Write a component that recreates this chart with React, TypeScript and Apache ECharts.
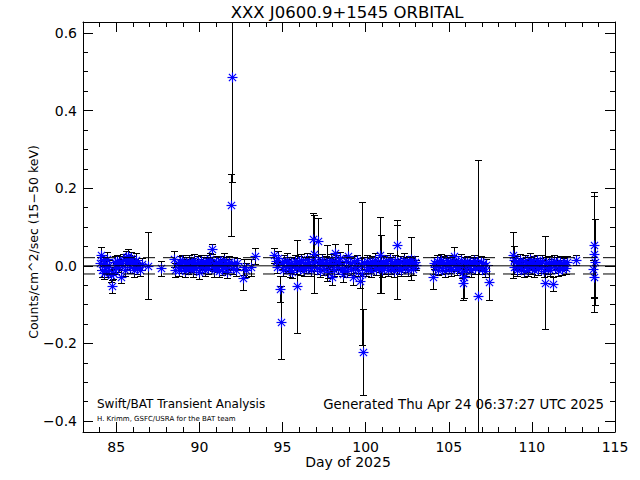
import React, { useEffect, useRef } from "react";
import * as echarts from "echarts";

// ---- axis ranges and ticks ----
const xRange = [83, 115];
const yRange = [-0.428, 0.628];
const xMajorTicks = [85, 90, 95, 100, 105, 110, 115];
const xMinorTicks = [84, 86, 87, 88, 89, 91, 92, 93, 94, 96, 97, 98, 99, 101, 102, 103, 104, 106, 107, 108, 109, 111, 112, 113, 114];
const yMajorTicks = [-0.4, -0.2, 0.0, 0.2, 0.4, 0.6];
const yMinorTicks = [-0.35, -0.3, -0.25, -0.15, -0.1, -0.05, 0.05, 0.1, 0.15, 0.25, 0.3, 0.35, 0.45, 0.5, 0.55];
const refLevels = [0.0, 0.021, -0.021];

// ---- data: [day, rate, error] ----
const segmentA = [
  [84.02, 0.006, 0.016], [84.08, 0.028, 0.021], [84.12, -0.010, 0.018], [84.18, 0.014, 0.015],
  [84.25, -0.018, 0.017], [84.31, 0.004, 0.014], [84.38, -0.004, 0.016], [84.44, 0.018, 0.018],
  [84.52, -0.014, 0.016], [84.58, 0.002, 0.014], [84.66, -0.024, 0.017], [84.76, -0.053, 0.016],
  [84.83, -0.018, 0.016], [84.90, 0.010, 0.015], [84.97, -0.006, 0.014], [85.04, 0.012, 0.016],
  [85.11, -0.002, 0.015], [85.18, 0.008, 0.017], [85.28, -0.028, 0.016], [85.36, 0.003, 0.014],
  [85.43, 0.016, 0.015], [85.50, -0.010, 0.017], [85.57, 0.022, 0.016], [85.63, 0.006, 0.014],
  [85.70, 0.026, 0.018], [85.77, 0.012, 0.015], [85.84, -0.004, 0.014], [85.91, 0.020, 0.016],
  [85.98, 0.010, 0.015], [86.05, -0.012, 0.017], [86.12, 0.004, 0.014], [86.19, 0.016, 0.016],
  [86.26, -0.006, 0.015], [86.34, 0.002, 0.014], [86.43, -0.010, 0.016], [86.55, 0.004, 0.015],
  [86.93, 0.000, 0.086], [87.72, -0.006, 0.019], [88.50, 0.017, 0.020], [88.55, -0.012, 0.018],
];

const segmentB = [
  [88.70, 0.004, 0.014], [88.77, -0.010, 0.015], [88.84, 0.010, 0.016], [88.91, -0.004, 0.014],
  [88.98, 0.014, 0.015], [89.05, 0.000, 0.013], [89.12, -0.014, 0.016], [89.19, 0.008, 0.014],
  [89.26, 0.002, 0.015], [89.33, -0.008, 0.014], [89.40, 0.012, 0.016], [89.47, -0.002, 0.013],
  [89.54, 0.006, 0.015], [89.61, -0.012, 0.016], [89.68, 0.016, 0.015], [89.75, 0.002, 0.014],
  [89.82, -0.006, 0.015], [89.89, 0.010, 0.016], [89.96, -0.016, 0.017], [90.03, 0.004, 0.014],
  [90.10, 0.012, 0.015], [90.17, -0.004, 0.014], [90.24, 0.008, 0.016], [90.31, -0.010, 0.015],
  [90.38, 0.002, 0.013], [90.45, 0.014, 0.015], [90.52, -0.006, 0.016], [90.59, 0.006, 0.014],
  [90.66, 0.018, 0.016], [90.76, 0.044, 0.013], [90.83, 0.000, 0.014], [90.90, -0.012, 0.016],
  [90.97, 0.010, 0.015], [91.04, -0.002, 0.014], [91.11, 0.006, 0.016], [91.18, -0.014, 0.015],
  [91.25, 0.012, 0.014], [91.32, 0.002, 0.016], [91.39, -0.008, 0.015], [91.46, 0.016, 0.016],
  [91.53, -0.004, 0.014], [91.60, 0.008, 0.015], [91.67, -0.016, 0.016], [91.74, 0.004, 0.014],
  [91.81, 0.010, 0.015], [91.92, 0.157, 0.080], [91.96, 0.487, 0.270], [92.02, -0.006, 0.016],
  [92.10, 0.008, 0.015], [92.18, -0.010, 0.016], [92.26, 0.006, 0.014], [92.62, -0.032, 0.030],
  [92.70, -0.003, 0.020], [92.82, -0.010, 0.018], [93.10, -0.004, 0.022], [93.35, 0.025, 0.020],
];

const segmentC = [
  [94.50, 0.027, 0.020], [94.58, 0.012, 0.016], [94.66, -0.004, 0.015], [94.74, 0.020, 0.018],
  [94.85, -0.059, 0.033], [94.88, -0.145, 0.094], [94.95, 0.006, 0.015], [95.03, -0.010, 0.016],
  [95.11, 0.012, 0.015], [95.19, -0.004, 0.014], [95.27, 0.016, 0.016], [95.35, 0.002, 0.015],
  [95.43, -0.012, 0.016], [95.51, 0.008, 0.014], [95.59, -0.016, 0.015], [95.67, 0.004, 0.016],
  [95.75, 0.012, 0.015], [95.83, -0.006, 0.014], [95.89, -0.053, 0.120], [95.97, 0.010, 0.016],
  [96.05, -0.008, 0.015], [96.13, 0.014, 0.016], [96.21, 0.000, 0.014], [96.29, -0.012, 0.015],
  [96.37, 0.006, 0.016], [96.45, 0.018, 0.015], [96.53, -0.004, 0.014], [96.61, 0.010, 0.016],
  [96.69, -0.010, 0.015], [96.77, 0.002, 0.016], [96.84, 0.068, 0.068], [96.90, 0.030, 0.100],
  [96.97, 0.012, 0.015], [97.05, -0.006, 0.016], [97.13, 0.063, 0.060], [97.20, 0.008, 0.015],
  [97.28, -0.014, 0.016], [97.36, 0.016, 0.015], [97.44, 0.004, 0.014], [97.52, -0.008, 0.016],
  [97.60, 0.010, 0.015], [97.66, 0.007, 0.047], [97.74, -0.016, 0.016], [97.82, 0.006, 0.015],
  [97.90, 0.014, 0.016], [97.96, -0.029, 0.020], [98.04, 0.002, 0.015], [98.10, -0.010, 0.016],
  [98.16, 0.033, 0.024], [98.24, 0.012, 0.015], [98.32, -0.004, 0.016], [98.40, 0.008, 0.015],
  [98.48, 0.020, 0.016], [98.56, -0.012, 0.015], [98.66, -0.022, 0.020], [98.72, -0.006, 0.015],
  [98.80, 0.012, 0.016], [98.88, -0.014, 0.014], [98.96, 0.026, 0.030], [99.04, 0.006, 0.015],
  [99.12, -0.008, 0.016], [99.22, -0.029, 0.020], [99.30, 0.010, 0.015], [99.38, -0.002, 0.016],
  [99.46, 0.014, 0.015], [99.54, -0.010, 0.016], [99.66, -0.038, 0.020],
];

const segmentD = [
  [99.74, 0.004, 0.015], [99.80, -0.020, 0.185], [99.85, -0.222, 0.110], [99.92, 0.008, 0.016],
  [100.00, -0.010, 0.015], [100.08, 0.012, 0.016], [100.16, -0.004, 0.014], [100.24, 0.006, 0.015],
  [100.32, -0.014, 0.016], [100.40, 0.010, 0.015], [100.48, 0.002, 0.014], [100.56, 0.016, 0.016],
  [100.64, -0.008, 0.015], [100.72, 0.008, 0.016], [100.80, -0.002, 0.014], [100.86, 0.028, 0.097],
  [100.90, 0.004, 0.075], [100.96, -0.012, 0.016], [101.04, 0.010, 0.015], [101.12, -0.006, 0.016],
  [101.20, 0.014, 0.015], [101.28, 0.002, 0.014], [101.36, -0.010, 0.016], [101.44, 0.018, 0.015],
  [101.52, -0.004, 0.016], [101.60, 0.008, 0.015], [101.68, -0.014, 0.014], [101.76, 0.012, 0.016],
  [101.82, 0.002, 0.015], [101.89, 0.054, 0.065], [101.91, 0.010, 0.095], [101.98, -0.006, 0.015],
  [102.06, 0.010, 0.016], [102.14, -0.012, 0.015], [102.22, 0.006, 0.014], [102.30, 0.016, 0.016],
  [102.38, -0.002, 0.015], [102.46, 0.008, 0.016], [102.54, -0.010, 0.015], [102.62, 0.012, 0.014],
  [102.71, 0.018, 0.055], [102.78, 0.004, 0.015], [102.86, -0.008, 0.016], [102.94, 0.010, 0.015],
  [103.02, 0.002, 0.014],
];

const segmentE = [
  [104.05, -0.029, 0.030], [104.12, 0.008, 0.015], [104.20, -0.004, 0.016], [104.28, 0.012, 0.015],
  [104.36, -0.010, 0.014], [104.44, 0.006, 0.016], [104.52, 0.016, 0.015], [104.60, -0.006, 0.016],
  [104.68, 0.010, 0.015], [104.76, -0.014, 0.014], [104.84, 0.004, 0.016], [104.92, 0.014, 0.015],
  [105.00, -0.002, 0.016], [105.08, 0.008, 0.015], [105.16, -0.012, 0.014], [105.24, 0.012, 0.016],
  [105.32, 0.026, 0.022], [105.40, 0.002, 0.015], [105.48, -0.008, 0.016], [105.56, 0.010, 0.015],
  [105.64, -0.004, 0.014], [105.72, 0.014, 0.016], [105.80, -0.016, 0.015], [105.86, -0.043, 0.045],
  [105.89, -0.030, 0.052], [105.95, 0.006, 0.016], [106.03, -0.010, 0.015], [106.11, 0.012, 0.014],
  [106.19, 0.000, 0.016], [106.27, 0.008, 0.015], [106.35, -0.012, 0.016], [106.43, 0.004, 0.015],
  [106.51, 0.014, 0.014], [106.59, -0.006, 0.016], [106.67, 0.008, 0.015], [106.76, -0.079, 0.352],
  [106.84, -0.004, 0.016], [106.92, 0.010, 0.015], [107.00, -0.008, 0.014], [107.08, 0.006, 0.016],
  [107.16, -0.014, 0.015], [107.24, 0.002, 0.016], [107.42, -0.042, 0.045],
];

const segmentF = [
  [108.86, 0.028, 0.060], [108.90, 0.015, 0.035], [108.95, -0.004, 0.016], [109.03, 0.010, 0.015],
  [109.11, -0.010, 0.016], [109.19, 0.006, 0.014], [109.27, 0.016, 0.015], [109.35, -0.006, 0.016],
  [109.43, 0.004, 0.015], [109.51, -0.014, 0.014], [109.59, 0.012, 0.016], [109.67, 0.000, 0.015],
  [109.75, -0.010, 0.016], [109.83, 0.008, 0.015], [109.91, 0.018, 0.014], [109.99, -0.004, 0.016],
  [110.07, 0.010, 0.015], [110.15, -0.012, 0.016], [110.23, 0.004, 0.015], [110.31, 0.014, 0.014],
  [110.39, -0.008, 0.016], [110.47, 0.006, 0.015], [110.55, -0.002, 0.016], [110.63, 0.012, 0.015],
  [110.71, -0.014, 0.014], [110.79, -0.043, 0.120], [110.86, 0.008, 0.016], [110.94, -0.006, 0.015],
  [111.02, 0.010, 0.016], [111.10, -0.010, 0.015], [111.18, 0.004, 0.014], [111.25, -0.046, 0.018],
  [111.32, 0.012, 0.016], [111.40, -0.004, 0.015], [111.48, 0.008, 0.016], [111.56, -0.012, 0.015],
  [111.64, 0.002, 0.014], [111.72, 0.010, 0.016], [111.80, -0.008, 0.015], [111.88, 0.006, 0.016],
  [111.96, 0.004, 0.015], [112.04, -0.006, 0.016], [112.12, 0.010, 0.015], [112.65, 0.015, 0.012],
];

const segmentG = [
  [113.70, -0.008, 0.022], [113.72, 0.054, 0.135], [113.74, 0.031, 0.150], [113.76, -0.030, 0.052],
  [113.78, 0.010, 0.110],
];

const FONT = "DejaVu Sans";

export default function App() {
  const ref = useRef<HTMLDivElement>(null);

  useEffect(() => {
    if (!ref.current) return;
    const chart = echarts.init(ref.current, undefined, { renderer: "svg" });
    const points = [...segmentA, ...segmentB, ...segmentC, ...segmentD, ...segmentE, ...segmentF, ...segmentG];

    const black = "#000000";
    const blue = "#0000ff";

    const xBase = {
      type: "value" as const,
      min: xRange[0],
      max: xRange[1],
      splitLine: { show: false },
      axisPointer: { show: false },
    };
    const yBase = {
      type: "value" as const,
      min: yRange[0],
      max: yRange[1],
      splitLine: { show: false },
      axisPointer: { show: false },
    };

    const yFmt = (v: number) => {
      const s = Math.abs(v) < 1e-9 ? "0.0" : v.toFixed(1);
      return s.replace("-", "\u2212");
    };

    const renderErr = (params: any, api: any) => {
      const d = api.value(0);
      const v = api.value(1);
      const e = api.value(2);
      const top = api.coord([d, v + e]);
      const bot = api.coord([d, v - e]);
      const cx = Math.round(top[0]) + 0.5;
      const ty = Math.round(top[1]) + 0.5;
      const by = Math.round(bot[1]) + 0.5;
      const cap = 3.5;
      const style = { stroke: black, lineWidth: 1 };
      return {
        type: "group",
        children: [
          { type: "line", shape: { x1: cx, y1: ty, x2: cx, y2: by }, style },
          { type: "line", shape: { x1: cx - cap, y1: ty, x2: cx + cap, y2: ty }, style },
          { type: "line", shape: { x1: cx - cap, y1: by, x2: cx + cap, y2: by }, style },
        ],
      };
    };

    const renderStar = (params: any, api: any) => {
      const p = api.coord([api.value(0), api.value(1)]);
      const x = Math.round(p[0]) + 0.5;
      const y = Math.round(p[1]) + 0.5;
      const r = 5;
      const k = 3.6;
      const style = { stroke: blue, lineWidth: 1.2 };
      return {
        type: "group",
        children: [
          { type: "line", shape: { x1: x - r, y1: y, x2: x + r, y2: y }, style },
          { type: "line", shape: { x1: x, y1: y - r, x2: x, y2: y + r }, style },
          { type: "line", shape: { x1: x - k, y1: y - k, x2: x + k, y2: y + k }, style },
          { type: "line", shape: { x1: x - k, y1: y + k, x2: x + k, y2: y - k }, style },
        ],
      };
    };

    const refSeries = refLevels.map((lvl, i) => ({
      type: "line" as const,
      data: [
        [xRange[0], lvl],
        [xRange[1], lvl],
      ],
      symbol: "none",
      silent: true,
      lineStyle: { color: black, width: 1, type: i === 0 ? ("solid" as const) : [12, 8] },
      z: 4,
    }));

    chart.setOption({
      animation: false,
      backgroundColor: "#ffffff",
      grid: { left: 83, right: 25, top: 22, bottom: 48, containLabel: false },
      xAxis: [
        {
          ...xBase,
          position: "bottom",
          axisLine: { show: true, onZero: false, lineStyle: { color: black, width: 1 } },
          axisTick: { show: true, inside: true, length: 10, customValues: xMajorTicks, lineStyle: { color: black } },
          axisLabel: {
            show: true,
            customValues: xMajorTicks,
            color: black,
            fontSize: 14,
            fontFamily: FONT,
            margin: 8,
            formatter: (v: number) => String(Math.round(v)),
          },
        },
        {
          ...xBase,
          position: "bottom",
          axisLine: { show: false, onZero: false },
          axisTick: { show: true, inside: true, length: 5, customValues: xMinorTicks, lineStyle: { color: black } },
          axisLabel: { show: false },
        },
        {
          ...xBase,
          position: "top",
          axisLine: { show: true, onZero: false, lineStyle: { color: black, width: 1 } },
          axisTick: { show: true, inside: true, length: 10, customValues: xMajorTicks, lineStyle: { color: black } },
          axisLabel: { show: false },
        },
        {
          ...xBase,
          position: "top",
          axisLine: { show: false, onZero: false },
          axisTick: { show: true, inside: true, length: 5, customValues: xMinorTicks, lineStyle: { color: black } },
          axisLabel: { show: false },
        },
      ],
      yAxis: [
        {
          ...yBase,
          position: "left",
          axisLine: { show: true, onZero: false, lineStyle: { color: black, width: 1 } },
          axisTick: { show: true, inside: true, length: 10, customValues: yMajorTicks, lineStyle: { color: black } },
          axisLabel: {
            show: true,
            customValues: yMajorTicks,
            color: black,
            fontSize: 14,
            fontFamily: FONT,
            margin: 6,
            formatter: yFmt,
          },
        },
        {
          ...yBase,
          position: "left",
          axisLine: { show: false, onZero: false },
          axisTick: { show: true, inside: true, length: 5, customValues: yMinorTicks, lineStyle: { color: black } },
          axisLabel: { show: false },
        },
        {
          ...yBase,
          position: "right",
          axisLine: { show: true, onZero: false, lineStyle: { color: black, width: 1 } },
          axisTick: { show: true, inside: true, length: 10, customValues: yMajorTicks, lineStyle: { color: black } },
          axisLabel: { show: false },
        },
        {
          ...yBase,
          position: "right",
          axisLine: { show: false, onZero: false },
          axisTick: { show: true, inside: true, length: 5, customValues: yMinorTicks, lineStyle: { color: black } },
          axisLabel: { show: false },
        },
      ],
      series: [
        {
          type: "custom",
          name: "errors",
          data: points,
          encode: { x: 0, y: 1 },
          renderItem: renderErr,
          clip: true,
          silent: true,
          z: 2,
        },
        {
          type: "custom",
          name: "stars",
          data: points,
          encode: { x: 0, y: 1 },
          renderItem: renderStar,
          clip: true,
          silent: true,
          z: 3,
        },
        ...refSeries,
      ],
      graphic: [
        {
          type: "text",
          x: 347,
          y: 12,
          style: {
            text: "XXX J0600.9+1545 ORBITAL",
            fill: black,
            font: `16.5px "${FONT}"`,
            textAlign: "center",
            textVerticalAlign: "middle",
          },
        },
        {
          type: "text",
          x: 348,
          y: 462,
          style: {
            text: "Day of 2025",
            fill: black,
            font: `14px "${FONT}"`,
            textAlign: "center",
            textVerticalAlign: "middle",
          },
        },
        {
          type: "text",
          x: 33,
          y: 242,
          rotation: Math.PI / 2,
          style: {
            text: "Counts/cm^2/sec (15\u221250 keV)",
            fill: black,
            font: `12.5px "${FONT}"`,
            textAlign: "center",
            textVerticalAlign: "middle",
          },
        },
        {
          type: "text",
          x: 97,
          y: 404,
          style: {
            text: "Swift/BAT Transient Analysis",
            fill: black,
            font: `12px "${FONT}"`,
            textAlign: "left",
            textVerticalAlign: "middle",
          },
        },
        {
          type: "text",
          x: 604,
          y: 404,
          style: {
            text: "Generated Thu Apr 24 06:37:27 UTC 2025",
            fill: black,
            font: `13.3px "${FONT}"`,
            textAlign: "right",
            textVerticalAlign: "middle",
          },
        },
        {
          type: "text",
          x: 97,
          y: 419,
          style: {
            text: "H. Krimm, GSFC/USRA for the BAT team",
            fill: black,
            font: `7px "${FONT}"`,
            textAlign: "left",
            textVerticalAlign: "middle",
          },
        },
      ],
    });

    return () => chart.dispose();
  }, []);

  return (
    <div
      ref={ref}
      style={{ position: "fixed", left: 0, top: 0, width: 640, height: 480, background: "#fff" }}
    />
  );
}
